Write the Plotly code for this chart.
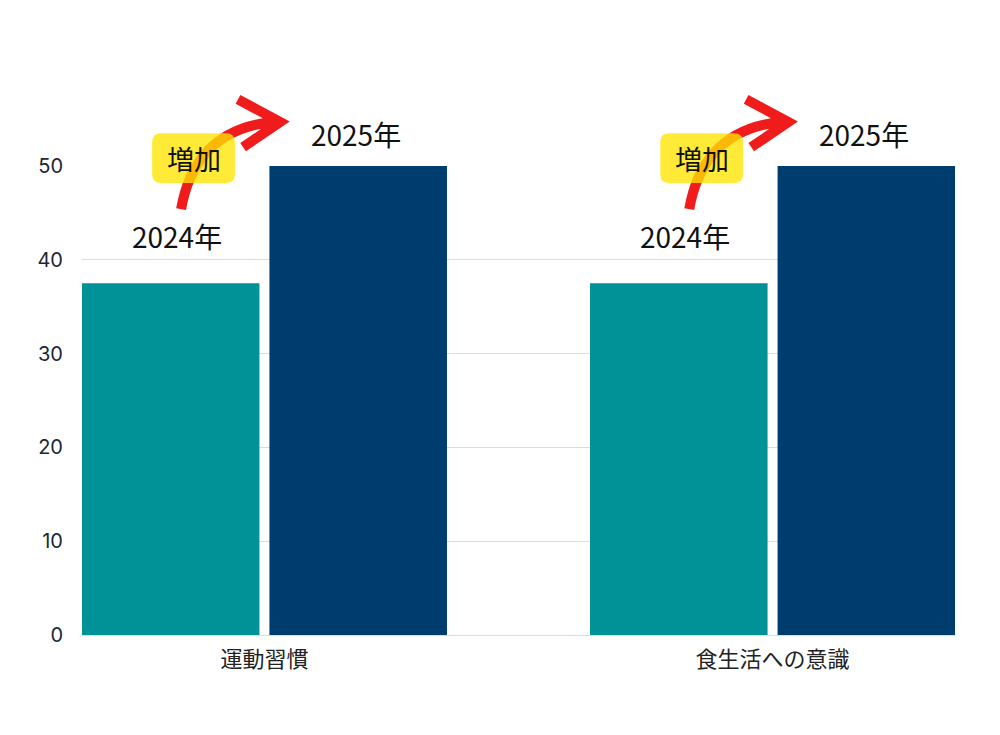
import plotly.graph_objects as go

# data
categories = ["運動習慣", "食生活への意識"]
series_names = ["2024年", "2025年"]
values_2024 = [37.5, 37.5]
values_2025 = [50, 50]
y_ticks = [0, 10, 20, 30, 40, 50]
badge_text = "増加"

TEAL = "#009296"
NAVY = "#003D6F"
RED = "#F01C1C"
YELLOW = "rgba(255,228,0,0.78)"

# axis setup (needed to place decorations in paper coords)
# the page body has an 8px margin, so the figure is shrunk to fit the window
X_RANGE = [-0.359, 1.359]
Y_RANGE = [0, 50]
W, H = 992, 727
M = dict(l=74, r=45, t=158, b=100)
PW = W - M["l"] - M["r"]
PH = H - M["t"] - M["b"]


def px(x, y):
    # data coords -> paper coords
    return ((x - X_RANGE[0]) / (X_RANGE[1] - X_RANGE[0]),
            (y - Y_RANGE[0]) / (Y_RANGE[1] - Y_RANGE[0]))


def pt(x, y):
    a, b = px(x, y)
    return "{:.5f},{:.5f}".format(a, b)


fig = go.Figure()
fig.add_trace(go.Bar(x=list(range(len(categories))), y=values_2024, name=series_names[0],
                     marker=dict(color=TEAL, line=dict(width=0))))
fig.add_trace(go.Bar(x=list(range(len(categories))), y=values_2025, name=series_names[1],
                     marker=dict(color=NAVY, line=dict(width=0))))

shapes = []
annotations = []
off = 0.1845
for i in range(len(categories)):
    # year labels above the bars
    annotations.append(dict(x=i - off, y=values_2024[i], xref="x", yref="y",
                            text=series_names[0], showarrow=False, yanchor="middle",
                            xshift=6, yshift=47,
                            font=dict(size=28, color="#111111", family="Noto Sans CJK JP")))
    annotations.append(dict(x=i + off, y=values_2025[i], xref="x", yref="y",
                            text=series_names[1], showarrow=False, yanchor="middle",
                            xshift=-2, yshift=32,
                            font=dict(size=28, color="#111111", family="Noto Sans CJK JP")))

    # curved red arrow
    path = "M{} Q{} {} M{} L{} L{}".format(
        pt(i - 0.164, 45.4), pt(i - 0.137, 53.8), pt(i + 0.015, 54.7),
        pt(i - 0.052, 57.1), pt(i + 0.031, 54.7), pt(i - 0.042, 52.0))
    shapes.append(dict(type="path", xref="paper", yref="paper", path=path,
                       line=dict(color=RED, width=10)))

    # yellow rounded badge
    x0, y0 = px(i - 0.221, 48.2)
    x1, y1 = px(i - 0.058, 53.5)
    rx, ry = 9 / PW, 9 / PH
    badge = ("M{a},{b} L{c},{b} Q{x1},{y0} {x1},{d} L{x1},{e} Q{x1},{y1} {c},{y1} "
             "L{a},{y1} Q{x0},{y1} {x0},{e} L{x0},{d} Q{x0},{y0} {a},{b} Z").format(
        a=x0 + rx, b=y0, c=x1 - rx, d=y0 + ry, e=y1 - ry, x0=x0, x1=x1, y0=y0, y1=y1)
    shapes.append(dict(type="path", xref="paper", yref="paper", path=badge,
                       fillcolor=YELLOW, line=dict(width=0)))
    bx, by = px(i - 0.139, 50.85)
    annotations.append(dict(x=bx, y=by, xref="paper", yref="paper", text=badge_text,
                            showarrow=False, xanchor="center", yanchor="middle",
                            font=dict(size=27, color="#111111", family="Noto Sans CJK JP")))

fig.update_layout(
    width=W, height=H,
    margin=M,
    paper_bgcolor="white",
    plot_bgcolor="white",
    showlegend=False,
    barmode="group",
    bargap=0.2618,
    bargroupgap=0.0533,
    shapes=shapes,
    annotations=annotations,
    xaxis=dict(range=X_RANGE, tickmode="array", tickvals=list(range(len(categories))),
               ticktext=categories, showgrid=False, zeroline=False, showline=False,
               ticks="", ticklabelstandoff=9,
               tickfont=dict(size=22, color="#222222", family="Noto Sans CJK JP")),
    yaxis=dict(range=Y_RANGE, tickvals=y_ticks, showgrid=True, gridcolor="#dcdcdc",
               gridwidth=1, zeroline=True, zerolinecolor="#dcdcdc", zerolinewidth=1,
               showline=False, ticks="", ticklabelstandoff=18, automargin=False,
               tickfont=dict(size=20, color="#1c2733", family="Inter")),
)

fig.write_html("out.html")
